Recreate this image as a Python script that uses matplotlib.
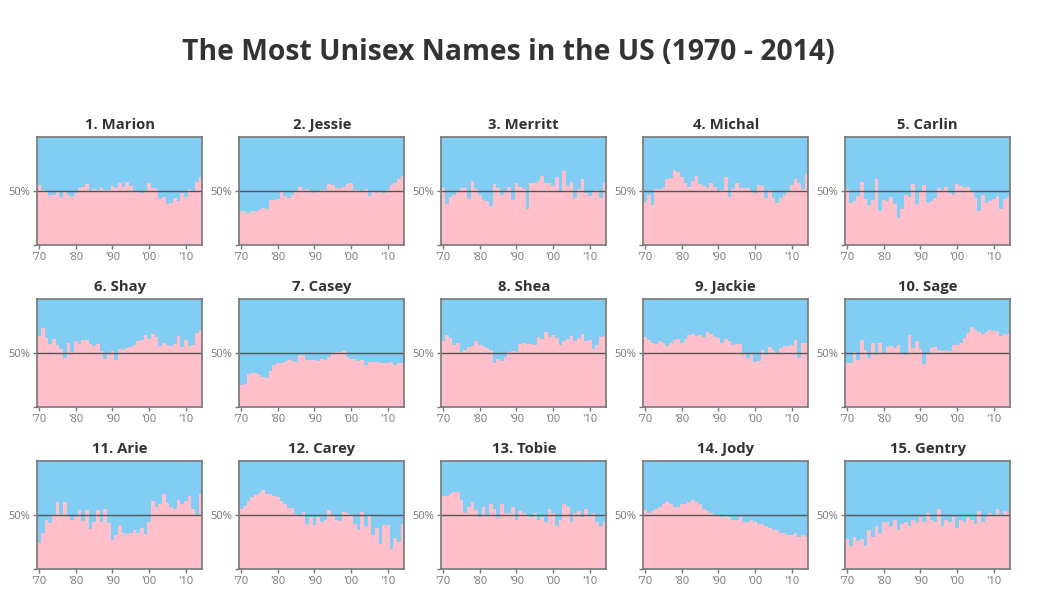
import numpy as np
import matplotlib
matplotlib.use('Agg')
import matplotlib.pyplot as plt

years = np.arange(1970, 2015)

names = ['1. Marion', '2. Jessie', '3. Merritt', '4. Michal', '5. Carlin',
         '6. Shay', '7. Casey', '8. Shea', '9. Jackie', '10. Sage',
         '11. Arie', '12. Carey', '13. Tobie', '14. Jody', '15. Gentry']

# percent female, per year 1970-2014
marion = [56,51,50,47,47,50,45,50,47,45,48,53,54,57,50,52,51,53,51,51,55,53,58,54,59,55,50,50,48,50,58,53,52,43,45,38,39,44,41,48,45,52,50,59,63]
jessie = [32,32,30,32,32,33,35,34,42,42,43,49,46,44,47,50,54,51,52,50,48,50,51,51,57,56,53,53,54,57,58,51,51,50,52,46,49,48,49,48,51,56,58,61,64]
merritt = [53,38,45,47,50,53,53,43,60,52,47,42,41,36,57,53,47,50,54,42,58,54,52,34,58,58,60,64,58,58,55,63,50,69,55,59,44,52,61,48,46,50,51,44,58]
michal = [40,47,37,52,52,53,61,62,70,68,63,58,54,60,64,57,55,53,58,54,50,51,63,45,52,58,53,53,53,50,48,56,55,44,51,44,39,44,47,49,56,61,58,52,66]
carlin = [52,39,41,46,59,43,37,42,61,32,42,41,45,38,25,34,47,45,57,38,49,56,39,41,44,53,51,54,48,47,57,55,53,54,50,44,32,47,39,41,43,46,34,43,45]
shay = [66,73,64,59,63,58,54,46,60,51,61,59,62,62,59,57,59,52,45,49,52,44,54,53,55,56,58,61,62,67,63,68,65,57,60,58,57,59,66,56,62,57,58,69,72]
casey = [21,22,31,32,32,30,28,27,34,39,41,41,42,44,43,42,48,48,44,44,44,43,45,44,47,49,51,51,52,47,45,45,43,44,39,42,42,42,41,41,41,42,39,41,41]
shea = [61,67,64,58,60,51,53,56,57,61,58,57,55,53,41,45,43,47,51,52,51,59,60,59,59,58,65,63,70,65,67,64,58,61,63,66,61,64,68,61,62,54,58,65,66]
jackie = [65,62,60,59,61,60,57,60,62,63,60,63,67,68,66,67,65,70,68,65,64,60,63,61,58,59,59,50,46,50,42,43,53,48,56,53,50,55,57,57,58,62,46,60,60]
sage = [41,41,51,44,62,53,46,60,48,60,50,56,57,55,58,50,48,67,55,61,54,40,50,55,56,53,52,53,52,58,58,60,64,69,74,72,70,68,70,72,71,71,66,68,68]
arie = [24,34,46,43,50,62,50,62,49,46,48,55,45,55,37,44,55,44,56,43,27,32,41,34,33,34,36,34,38,33,44,63,58,60,70,61,58,56,64,60,63,68,56,50,70]
carey = [56,59,63,67,69,71,73,70,70,68,67,63,60,57,57,51,50,53,42,48,41,48,44,46,55,50,46,45,53,52,49,42,36,53,40,49,32,38,23,41,41,19,29,25,42]
tobie = [68,68,70,72,72,64,52,58,62,55,48,58,50,60,56,48,60,52,52,58,46,54,52,50,48,52,46,48,44,56,52,40,46,60,58,44,52,54,48,56,50,52,44,40,44]
jody = [55,52,54,56,58,60,62,60,58,58,60,60,62,64,62,60,56,54,52,50,50,48,50,48,46,46,48,44,44,46,44,42,42,40,38,36,36,34,34,32,32,34,30,32,30]
gentry = [28,22,30,26,28,22,36,30,40,34,44,44,40,46,36,42,44,40,46,44,48,44,52,46,44,56,40,46,44,48,38,46,44,48,46,42,54,44,48,52,50,56,50,54,52]

series = [marion, jessie, merritt, michal, carlin, shay, casey, shea, jackie,
          sage, arie, carey, tobie, jody, gentry]

blue = '#81cdf4'
pink = '#ffc0cb'
grey = '#777777'

plt.rcParams['font.family'] = ['Open Sans', 'DejaVu Sans']
fig = plt.figure(figsize=(10.39, 6.0), dpi=100)

W, H = 1039., 600.
lefts = [37.3, 239.3, 441.3, 643.3, 845.3]
tops = [137.3, 299.3, 461.3]
aw, ah = 165., 108.

for k, (nm, vals) in enumerate(zip(names, series)):
    r, c = divmod(k, 5)
    ax = fig.add_axes([lefts[c] / W, 1 - (tops[r] + ah) / H, aw / W, ah / H])
    ax.set_facecolor(blue)
    ax.bar(years, np.array(vals) / 100., width=1.0, color=pink, linewidth=0)
    ax.axhline(0.5, color='#555555', lw=1)
    ax.set_xlim(1969.5, 2014.5)
    ax.set_ylim(0, 1)
    ax.set_xticks([1970, 1980, 1990, 2000, 2010])
    ax.set_xticklabels(["'70", "'80", "'90", "'00", "'10"])
    ax.set_yticks([0, 0.5])
    ax.set_yticklabels(['', '50%'])
    ax.tick_params(colors=grey, labelsize=8, length=3, width=1, pad=2)
    for s in ax.spines.values():
        s.set_color(grey)
        s.set_linewidth(1.2)
    ax.set_title(nm, fontsize=10.7, fontweight='bold', color='#333333', pad=6)

fig.text(0.489, 1 - 52 / H, 'The Most Unisex Names in the US (1970 - 2014)',
         ha='center', va='center', fontsize=20.4, fontweight='bold', color='#333333')

fig.savefig('out.png', dpi=100)
